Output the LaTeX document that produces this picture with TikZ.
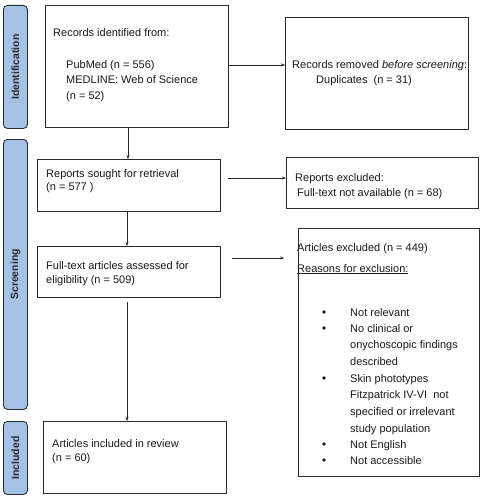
\documentclass[tikz,border=0pt]{standalone}
\usepackage{fontspec}
\setmainfont{Liberation Sans}
\usetikzlibrary{arrows.meta}
\definecolor{barblue}{HTML}{A4C2E6}
\definecolor{edge}{HTML}{2B2B2B}
\begin{document}
\begin{tikzpicture}[x=1pt,y=-1pt,
  box/.style={draw=edge,line width=0.9pt,rectangle,inner sep=0pt,anchor=north west},
  bar/.style={draw=edge,line width=0.9pt,fill=barblue,rounded corners=4pt,inner sep=0pt,anchor=north west},
  bartext/.style={font=\fontsize{10.5}{12}\selectfont\bfseries,rotate=90,text=edge},
  txt/.style={font=\fontsize{11}{15}\selectfont,anchor=base west,inner sep=0pt,text=black!90},
  bullet/.style={circle,fill=black!90,inner sep=0pt,minimum size=3.6pt},
  arr/.style={draw=black!85,line width=0.5pt,-{Stealth[length=4pt,width=3pt]}}]
\useasboundingbox (0,0) rectangle (484,500);
% side bars
\node[bar,minimum width=24,minimum height=123] (idbar) at (3,5) {};
\node[bartext] (idtxt) at (idbar.center) {Identification};
\node[bar,minimum width=24,minimum height=270] (scbar) at (3,139) {};
\node[bartext] (sctxt) at (scbar.center) {Screening};
\node[bar,minimum width=24,minimum height=73] (inbar) at (3,421) {};
\node[bartext] (intxt) at (inbar.center) {Included};
% boxes
\node[box,minimum width=183,minimum height=122] (b1) at (45,5) {};
\node[box,minimum width=183,minimum height=112] (b2) at (285,17) {};
\node[box,minimum width=183,minimum height=52] (b3) at (37,159) {};
\node[box,minimum width=192,minimum height=51] (b4) at (286,157) {};
\node[box,minimum width=183,minimum height=51] (b5) at (37,246) {};
\node[box,minimum width=181,minimum height=248] (b6) at (298,228) {};
\node[box,minimum width=183,minimum height=72] (b7) at (43,421) {};
% texts
\node[txt] (t1a) at (53,37) {Records identified from:};
\node[txt] (t1b) at (66,69) {PubMed (n = 556)};
\node[txt] (t1c) at (66,84) {MEDLINE: Web of Science};
\node[txt] (t1d) at (66,100) {(n = 52)};
\node[txt] (t2a) at (292,69) {Records removed \textit{before screening}:};
\node[txt] (t2b) at (316,84) {Duplicates\ \ (n = 31)};
\node[txt] (t3a) at (46,177) {Reports sought for retrieval};
\node[txt] (t3b) at (46,190) {(n = 577 )};
\node[txt] (t4a) at (295,181) {Reports excluded:};
\node[txt] (t4b) at (297,196) {Full-text not available (n = 68)};
\node[txt] (t5a) at (46,269) {Full-text articles assessed for};
\node[txt] (t5b) at (46,283) {eligibility (n = 509)};
\node[txt] (t6a) at (297,251) {Articles excluded (n = 449)};
\node[txt] (t6b) at (297,272) {\underline{Reasons for exclusion:}};
\foreach \i/\y/\t in {1/316/Not relevant,2/332/No clinical or,3/348/onychoscopic findings,
    4/365/described,5/382/Skin phototypes,6/398/{Fitzpatrick IV-VI\ \ not},
    7/415/specified or irrelevant,8/432/study population,9/448/Not English,10/464/Not accessible}
  \node[txt] (li\i) at (350,\y) {\t};
\foreach \i/\y in {1/312,2/328,5/378,9/444,10/460}
  \node[bullet] (bul\i) at (324,\y) {};
\node[txt] (t7a) at (52,447) {Articles included in review};
\node[txt] (t7b) at (52,461) {(n = 60)};
% arrows
\coordinate (a1s) at (b1.south -| 128,0);
\coordinate (a2s) at (b3.south -| 127,0);
\coordinate (a3s) at (127,302);
\draw[arr] (b1.east |- 0,65) -- (b2.west |- 0,65);
\draw[arr] (a1s) -- (a1s |- b3.north);
\draw[arr] (228,178) -- (b4.west |- 0,178);
\draw[arr] (a2s) -- (a2s |- b5.north);
\draw[arr] (232,258) -- (284,258);
\draw[arr] (a3s) -- (a3s |- b7.north);
\end{tikzpicture}
\end{document}
